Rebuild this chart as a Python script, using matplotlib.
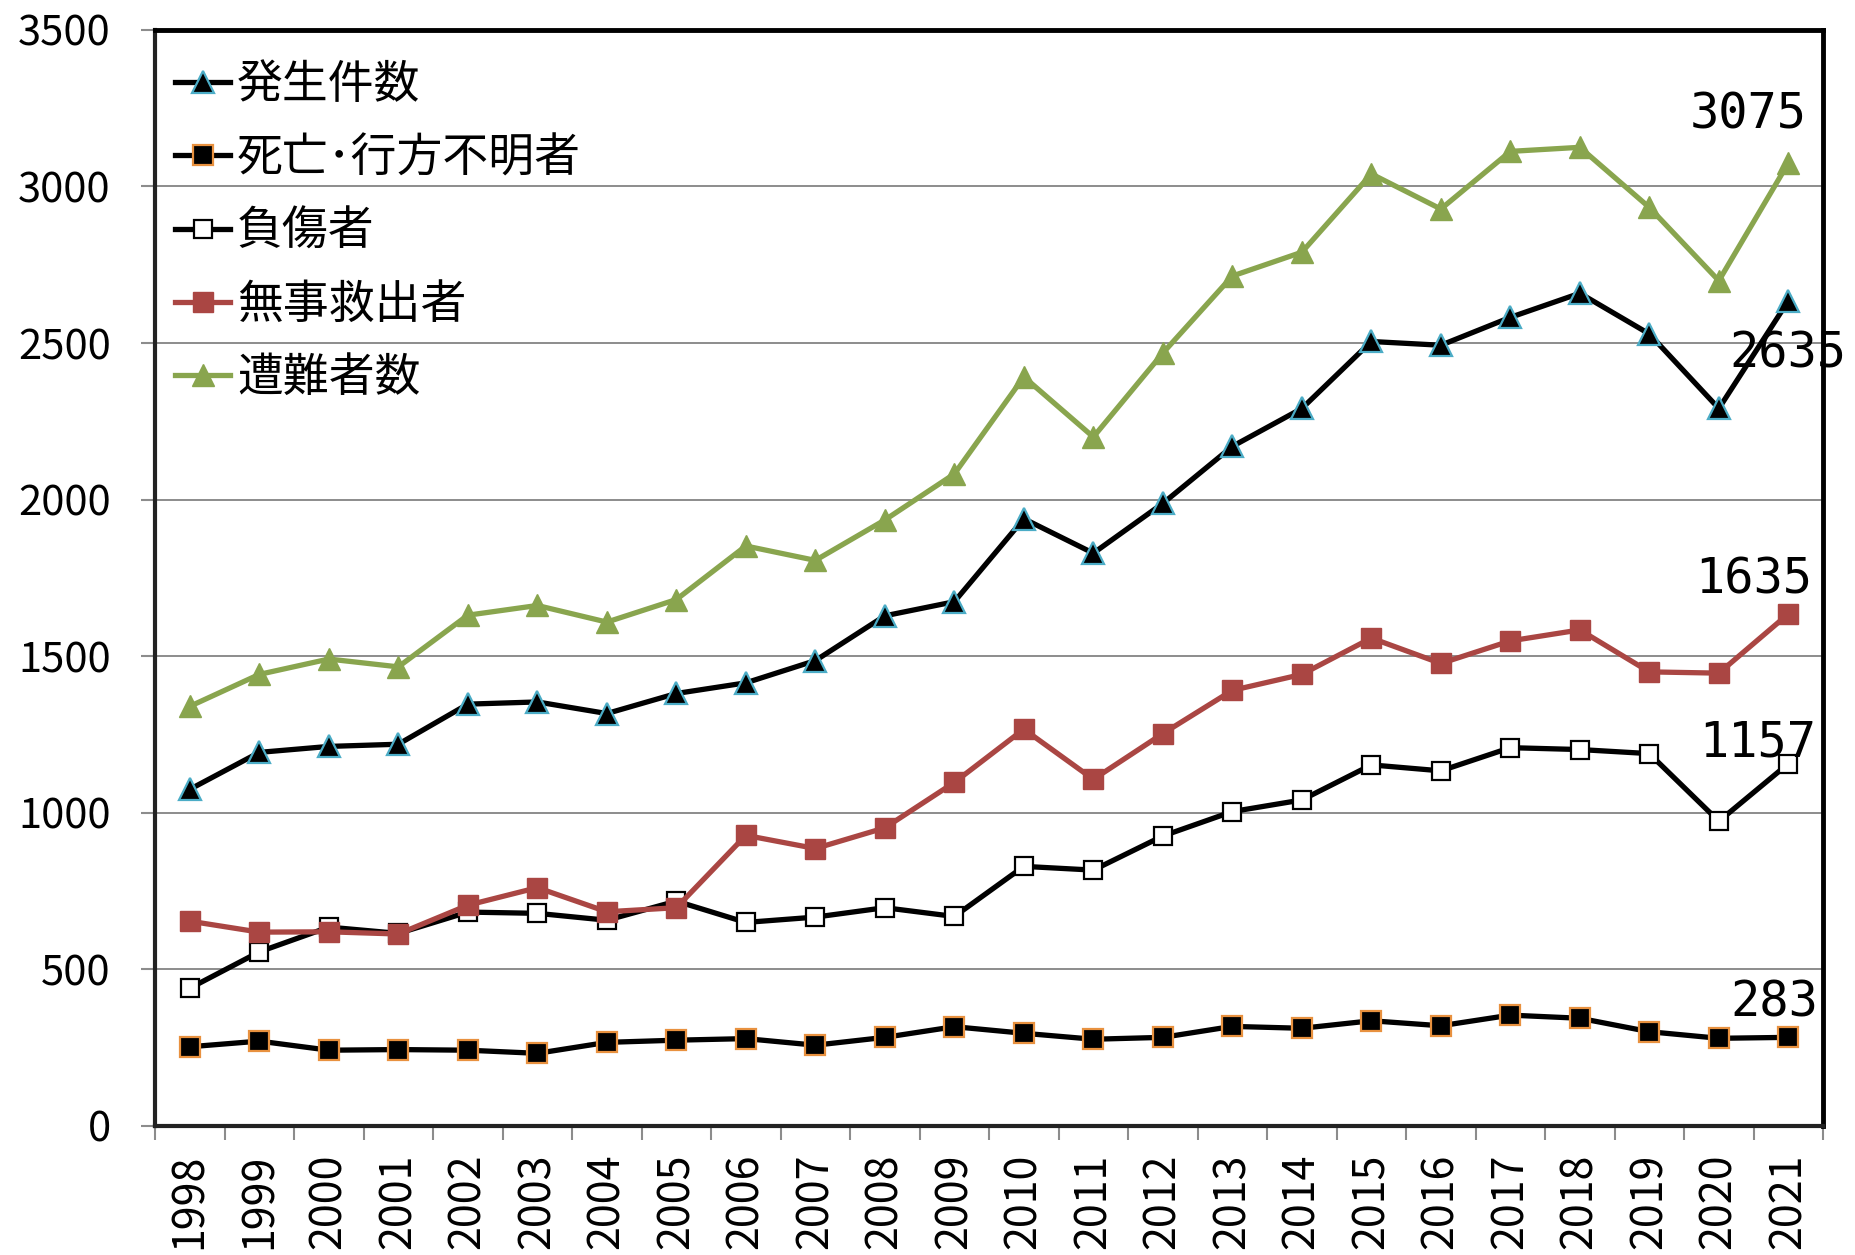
import matplotlib
matplotlib.use("Agg")
import matplotlib.pyplot as plt
from matplotlib.ticker import FixedLocator

plt.rcParams['font.family'] = ['Noto Sans CJK JP', 'DejaVu Sans']

# data
years = [str(y) for y in range(1998, 2022)]
hassei = [1075, 1193, 1212, 1219, 1347, 1354, 1317, 1381, 1415, 1486, 1629, 1674,
          1939, 1829, 1988, 2170, 2291, 2505, 2493, 2582, 2659, 2529, 2291, 2635]
shibou = [253, 271, 242, 244, 242, 232, 267, 274, 279, 258, 283, 317,
          296, 277, 283, 318, 312, 336, 320, 354, 344, 301, 280, 283]
fushou = [440, 556, 635, 615, 683, 679, 657, 718, 650, 667, 697, 669,
          829, 817, 926, 1004, 1041, 1153, 1134, 1208, 1202, 1189, 973, 1157]
buji = [654, 619, 620, 613, 705, 761, 684, 697, 928, 886, 952, 1097,
        1267, 1107, 1253, 1391, 1442, 1558, 1477, 1549, 1584, 1450, 1446, 1635]
sounan = [1340, 1442, 1491, 1466, 1631, 1662, 1609, 1681, 1852, 1806, 1935, 2082,
          2392, 2200, 2468, 2714, 2790, 3040, 2928, 3112, 3125, 2933, 2699, 3075]
labels = ['発生件数', '死亡･行方不明者', '負傷者', '無事救出者', '遭難者数']

x = list(range(len(years)))

fig = plt.figure(figsize=(18.55, 12.55), dpi=100)
ax = fig.add_axes([0.0836, 0.1028, 0.8992, 0.8734])

# series
ax.plot(x, hassei, color='black', lw=3.8, marker='^', ms=16,
        mfc='black', mec='#4BACC6', mew=1.6, label=labels[0], zorder=3)
ax.plot(x, shibou, color='black', lw=3.8, marker='s', ms=14,
        mfc='black', mec='#E8913F', mew=1.6, label=labels[1], zorder=3)
ax.plot(x, fushou, color='black', lw=3.8, marker='s', ms=13,
        mfc='white', mec='black', mew=1.6, label=labels[2], zorder=3)
ax.plot(x, buji, color='#AA4643', lw=3.8, marker='s', ms=14,
        mfc='#AA4643', mec='#AA4643', mew=1, label=labels[3], zorder=3)
ax.plot(x, sounan, color='#89A54E', lw=3.8, marker='^', ms=16,
        mfc='#89A54E', mec='#89A54E', mew=1, label=labels[4], zorder=3)

# data labels at the last year
lab_font = dict(family='DejaVu Sans Mono', fontsize=35, ha='center', va='center')
ax.annotate(str(sounan[-1]), (x[-1], sounan[-1]), xytext=(-29, 35),
            textcoords='offset points', **lab_font)
ax.annotate(str(hassei[-1]), (x[-1], hassei[-1]), xytext=(0, -38),
            textcoords='offset points', annotation_clip=False, **lab_font)
ax.annotate(str(buji[-1]), (x[-1], buji[-1]), xytext=(-25, 25),
            textcoords='offset points', **lab_font)
ax.annotate(str(fushou[-1]), (x[-1], fushou[-1]), xytext=(-22, 15),
            textcoords='offset points', **lab_font)
ax.annotate(str(shibou[-1]), (x[-1], shibou[-1]), xytext=(-10, 25),
            textcoords='offset points', **lab_font)

# axes
ax.set_xlim(-0.5, len(years) - 0.5)
ax.set_ylim(0, 3500)
ax.set_yticks(range(0, 3501, 500))
ax.yaxis.grid(True, color='#8c8c8c', lw=1.4)
ax.set_axisbelow(True)
ax.tick_params(axis='y', length=10, width=1.5, color='#8c8c8c', pad=22, labelsize=30)

ax.set_xticks(x)
ax.set_xticklabels(years, rotation=90, fontsize=31)
ax.xaxis.set_minor_locator(FixedLocator([i - 0.5 for i in range(len(years) + 1)]))
ax.tick_params(axis='x', which='major', length=0, pad=20)
ax.tick_params(axis='x', which='minor', length=10, width=1.5, color='#8c8c8c')

for side in ['top', 'right']:
    ax.spines[side].set_linewidth(3.5)
    ax.spines[side].set_color('black')
for side in ['left', 'bottom']:
    ax.spines[side].set_linewidth(3)
    ax.spines[side].set_color('#222222')

leg = ax.legend(loc='upper left', bbox_to_anchor=(0.012, 0.972), frameon=False,
                fontsize=33, handlelength=1.2, handletextpad=0.15,
                labelspacing=0.54, borderpad=0, borderaxespad=0)

fig.savefig('out.png', dpi=100)
